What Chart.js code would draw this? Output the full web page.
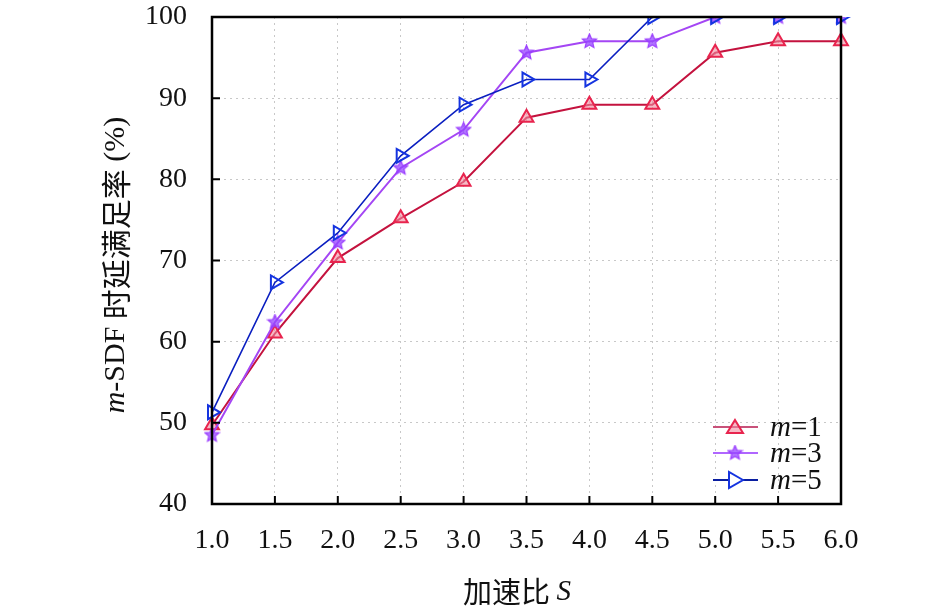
<!DOCTYPE html>
<html>
<head>
<meta charset="utf-8">
<script src="https://cdn.jsdelivr.net/npm/chart.js@4.4.1/dist/chart.umd.min.js"></script>
<style>
html,body{margin:0;padding:0;background:#fff;}
#wrap{width:945px;height:613px;}
</style>
</head>
<body>
<div id="wrap"><canvas id="c" width="945" height="613"></canvas></div>
<script>
const categories = ['1.0','1.5','2.0','2.5','3.0','3.5','4.0','4.5','5.0','5.5','6.0'];
const m1Values = [49.7, 61.0, 70.3, 75.2, 79.7, 87.6, 89.2, 89.2, 95.6, 97.0, 97.0];
const m3Values = [48.5, 62.4, 72.2, 81.4, 86.1, 95.6, 97.0, 97.0, 100, 100, 100];
const m5Values = [51.3, 67.3, 73.4, 82.9, 89.2, 92.3, 92.3, 100, 100, 100, 100];
const seriesNames = ['m=1', 'm=3', 'm=5'];
const yTicks = [40, 50, 60, 70, 80, 90, 100];

const SERIF = '"Liberation Serif", "Times New Roman", serif';
const CJK = '"Noto Sans CJK SC", sans-serif';

function makeStar(size, fill, stroke) {
  const cv = document.createElement('canvas');
  cv.width = size; cv.height = size;
  const g = cv.getContext('2d');
  const cx = size / 2, cy = size / 2, R = size / 2 - 1, r = R * 0.45;
  g.beginPath();
  for (let i = 0; i < 10; i++) {
    const rad = i % 2 === 0 ? R : r;
    const a = -Math.PI / 2 + i * Math.PI / 5;
    const x = cx + rad * Math.cos(a), y = cy + rad * Math.sin(a);
    if (i === 0) g.moveTo(x, y); else g.lineTo(x, y);
  }
  g.closePath();
  g.fillStyle = fill; g.fill();
  g.lineWidth = 1.2; g.strokeStyle = stroke; g.stroke();
  return cv;
}
const starImg = makeStar(17, 'rgba(150,70,255,0.75)', '#9a3cff');

function drawMixed(ctx, segs, x, y, size) {
  let total = 0;
  const widths = segs.map(s => {
    ctx.font = (s.italic ? 'italic ' : '') + size + 'px ' + (s.cjk ? CJK : SERIF);
    const w = ctx.measureText(s.t).width; total += w; return w;
  });
  let cx = x - total / 2;
  ctx.textAlign = 'left'; ctx.textBaseline = 'middle';
  segs.forEach((s, i) => {
    ctx.font = (s.italic ? 'italic ' : '') + size + 'px ' + (s.cjk ? CJK : SERIF);
    ctx.fillText(s.t, cx, y); cx += widths[i];
  });
}

const decor = {
  id: 'decor',
  afterDraw(chart) {
    const ctx = chart.ctx, a = chart.chartArea;
    const xs = chart.scales.x, ys = chart.scales.y;
    ctx.save();
    ctx.strokeStyle = '#000'; ctx.lineWidth = 2.5;
    ctx.strokeRect(a.left, a.top, a.right - a.left, a.bottom - a.top);
    ctx.lineWidth = 2;
    ctx.beginPath();
    categories.forEach((c, i) => {
      const px = xs.getPixelForValue(i);
      ctx.moveTo(px, a.bottom); ctx.lineTo(px, a.bottom - 8);
    });
    yTicks.forEach(v => {
      const py = ys.getPixelForValue(v);
      ctx.moveTo(a.left, py); ctx.lineTo(a.left + 8, py);
    });
    ctx.stroke();
    ctx.fillStyle = '#111';
    // x title
    drawMixed(ctx, [{t:'加速比 ', cjk:true}, {t:'S', italic:true}], 517, 592, 29);
    // y title
    ctx.save();
    ctx.translate(116, 265);
    ctx.rotate(-Math.PI / 2);
    drawMixed(ctx, [{t:'m', italic:true}, {t:'-SDF '}, {t:'时延满足率', cjk:true}, {t:' (%)'}], 0, 0, 30);
    ctx.restore();
    // legend
    const ds = chart.data.datasets;
    const rows = [427, 453, 480];
    ds.forEach((d, i) => {
      const y = rows[i];
      ctx.strokeStyle = d.legendLine; ctx.lineWidth = 2;
      ctx.beginPath(); ctx.moveTo(713, y); ctx.lineTo(758, y); ctx.stroke();
      const cx = 735;
      if (i === 1) {
        ctx.drawImage(starImg, cx - 8.5, y - 8.5);
      } else if (i === 0) {
        ctx.beginPath();
        ctx.moveTo(cx, y - 7); ctx.lineTo(cx + 8, y + 6); ctx.lineTo(cx - 8, y + 6); ctx.closePath();
        ctx.fillStyle = d.pointBackgroundColor; ctx.fill();
        ctx.strokeStyle = d.pointBorderColor; ctx.lineWidth = 2; ctx.stroke();
      } else {
        ctx.beginPath();
        ctx.moveTo(cx + 8, y); ctx.lineTo(cx - 6, y - 8); ctx.lineTo(cx - 6, y + 8); ctx.closePath();
        ctx.fillStyle = '#fff'; ctx.fill();
        ctx.strokeStyle = d.pointBorderColor; ctx.lineWidth = 2; ctx.stroke();
      }
      ctx.fillStyle = '#111';
      ctx.textAlign = 'left'; ctx.textBaseline = 'middle';
      ctx.font = 'italic 29px ' + SERIF;
      const mw = ctx.measureText('m').width;
      ctx.fillText('m', 770, y + 1);
      ctx.font = '29px ' + SERIF;
      ctx.fillText(seriesNames[i].slice(1), 770 + mw, y + 1);
    });
    ctx.restore();
  }
};

new Chart(document.getElementById('c'), {
  type: 'line',
  data: {
    labels: categories,
    datasets: [
      {
        label: seriesNames[0], data: m1Values,
        borderColor: '#c4123e', borderWidth: 2,
        pointStyle: 'triangle', pointRadius: 8, pointBorderWidth: 2,
        pointBorderColor: '#e8244e', pointBackgroundColor: 'rgba(240,140,160,0.6)',
        legendLine: '#c8527a', order: 3
      },
      {
        label: seriesNames[1], data: m3Values,
        borderColor: '#a446f4', borderWidth: 2,
        pointStyle: starImg, pointRadius: 8,
        legendLine: '#b066ff', order: 2
      },
      {
        label: seriesNames[2], data: m5Values,
        borderColor: '#0a1ec0', borderWidth: 1.6,
        pointStyle: 'triangle', rotation: 90, pointRadius: 8, pointBorderWidth: 2,
        pointBorderColor: '#1534e0', pointBackgroundColor: 'rgba(255,255,255,0)',
        legendLine: '#0a1ea0', order: 1
      }
    ]
  },
  options: {
    responsive: false,
    animation: false,
    devicePixelRatio: 1,
    layout: { padding: { left: 0, right: 104, top: 17, bottom: 0 } },
    plugins: { legend: { display: false }, tooltip: { enabled: false } },
    elements: { line: { tension: 0 } },
    scales: {
      x: {
        type: 'category', offset: false,
        grid: { color: '#c8c8c8', lineWidth: 1, drawTicks: false },
        border: { display: false, dash: [2, 4] },
        ticks: { color: '#111', font: { family: SERIF, size: 28 }, padding: 20, maxRotation: 0, autoSkip: false },
        afterFit(s) { s.height = 109; s.paddingLeft = 0; s.paddingRight = 0; }
      },
      y: {
        min: 40, max: 100,
        afterBuildTicks(s) { s.ticks = yTicks.map(v => ({ value: v })); },
        grid: { color: '#c8c8c8', lineWidth: 1, drawTicks: false },
        border: { display: false, dash: [2, 4] },
        ticks: { color: '#111', font: { family: SERIF, size: 28 }, padding: 25 },
        afterFit(s) { s.width = 212; s.paddingTop = 0; s.paddingBottom = 0; }
      }
    }
  },
  plugins: [decor]
});
</script>
</body>
</html>
